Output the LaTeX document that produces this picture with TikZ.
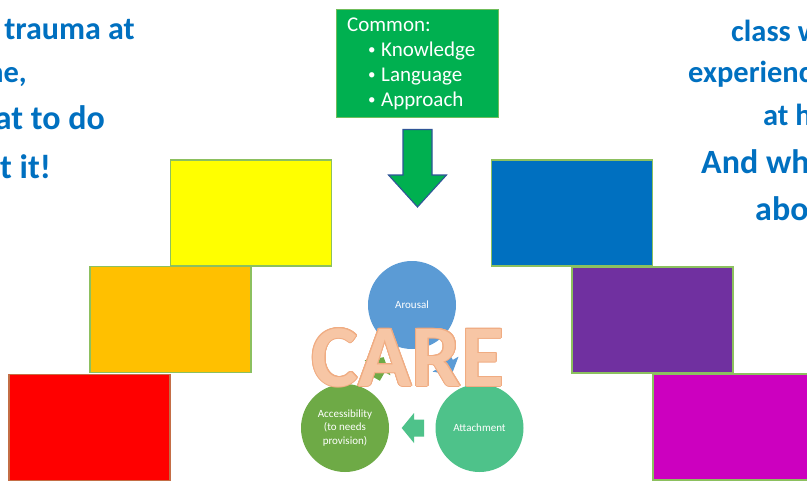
\documentclass[tikz,border=0pt]{standalone}
\usepackage{fontspec}
\setmainfont{Carlito}
\usepackage{contour}
\contourlength{1pt}
\definecolor{titleblue}{HTML}{0070C0}
\definecolor{cyellow}{HTML}{FFFF00}
\definecolor{corange}{HTML}{FFC000}
\definecolor{cred}{HTML}{FF0000}
\definecolor{cblue}{HTML}{0070C0}
\definecolor{cpurple}{HTML}{7030A0}
\definecolor{cmagenta}{HTML}{CC00BF}
\definecolor{edgegreen}{RGB}{140,192,95}
\definecolor{edgered}{RGB}{196,110,70}
\definecolor{boxgreen}{HTML}{00B050}
\definecolor{arrowedge}{HTML}{2F5597}
\definecolor{carousal}{HTML}{5B9BD5}
\definecolor{caccess}{HTML}{6EAA46}
\definecolor{cattach}{RGB}{78,194,138}
\definecolor{peachfill}{RGB}{247,198,165}
\definecolor{peachedge}{RGB}{240,172,130}
\tikzset{
  colbox/.style={draw=edgegreen, line width=1.4pt, minimum width=161pt, minimum height=106pt, inner sep=0pt, outer sep=0pt},
  smallline/.style={font=\fontsize{30.5}{30.5}\selectfont\bfseries, text=titleblue, inner sep=0pt},
  bigline/.style={font=\fontsize{34}{34}\selectfont\bfseries, text=titleblue, inner sep=0pt},
  careball/.style={circle, minimum size=88pt, inner sep=0pt, text=white, align=center, font=\fontsize{11}{13.5}\selectfont},
  commontext/.style={text=white, inner sep=0pt, font=\fontsize{21}{21}\selectfont},
  bulletmark/.style={text=white, inner sep=0pt, font=\fontsize{15}{15}\selectfont}
}
\begin{document}
\begin{tikzpicture}[x=1pt,y=-1pt]
\useasboundingbox (0,0) rectangle (807,482);
\clip (0,0) rectangle (807,482);
\fill[white] (0,0) rectangle (807,482);

% left title text
\node[smallline, font=\fontsize{32}{32}\selectfont\bfseries, anchor=base east] (l1) at (135,39) {experience trauma at};
\node[smallline, anchor=base east] (l2) at (27,82) {home,};
\node[bigline, anchor=base east] (l3) at (105,129) {And what to do};
\node[bigline, anchor=base east] (l4) at (51,178) {about it!};

% right title text
\node[smallline, anchor=base west] (r1) at (731,41) {class who};
\node[smallline, anchor=base west] (r2) at (688,82) {experience trauma};
\node[smallline, anchor=base west] (r3) at (763,125) {at home?};
\node[bigline, anchor=base west] (r4) at (701,173) {And what to do};
\node[bigline, anchor=base west] (r5) at (755,220) {about it?};

% coloured boxes
\node[colbox, fill=corange] (orange) at (170.5,319.5) {};
\node[colbox, fill=cyellow] (yellow) at (251,213) {};
\node[colbox, fill=cred, draw=edgered] (red) at (89.5,427.5) {};
\node[colbox, fill=cpurple] (purple) at (652.5,320) {};
\node[colbox, fill=cblue] (blue) at (572,213) {};
\node[colbox, fill=cmagenta] (magenta) at (733.5,427) {};

% common box
\node[draw=edgegreen!80!boxgreen, line width=1pt, fill=boxgreen, minimum width=162pt, minimum height=108pt, inner sep=0pt] (common) at (417.5,63) {};
\node[commontext, anchor=base west] (ct0) at (347,31) {Common:};
\node[bulletmark, anchor=base west] (cb1) at (368,54) {•};
\node[commontext, anchor=base west] (ct1) at (381,56) {Knowledge};
\node[bulletmark, anchor=base west] (cb2) at (368,79) {•};
\node[commontext, anchor=base west] (ct2) at (381,81) {Language};
\node[bulletmark, anchor=base west] (cb3) at (368,104) {•};
\node[commontext, anchor=base west] (ct3) at (381,106) {Approach};

% big down arrow
\filldraw[fill=boxgreen, draw=arrowedge, line width=1.1pt, line join=miter]
  (403,129.5) -- (432,129.5) -- (432,175) -- (446.5,175) -- (417.5,207) -- (388.5,175) -- (403,175) -- cycle;

% cycle diagram
\node[careball, fill=carousal] (arousal) at (412,305) {Arousal};
\node[careball, fill=caccess] (access) at (345,428) {Accessibility\\(to needs\\provision)};
\node[careball, fill=cattach] (attach) at (479.5,428) {Attachment};

\begin{scope}[shift={(446,365)}, rotate=-60]
  \fill[carousal] (-11,-8.5) -- (-1,-8.5) -- (-1,-15) -- (11.3,0) -- (-1,15) -- (-1,8.5) -- (-11,8.5) -- cycle;
\end{scope}
\begin{scope}[shift={(378,367)}, rotate=60]
  \fill[caccess] (-11,-8.5) -- (-1,-8.5) -- (-1,-15) -- (11.3,0) -- (-1,15) -- (-1,8.5) -- (-11,8.5) -- cycle;
\end{scope}
\begin{scope}[shift={(413,428)}, rotate=180]
  \fill[cattach] (-11,-8.5) -- (-1,-8.5) -- (-1,-15) -- (11.3,0) -- (-1,15) -- (-1,8.5) -- (-11,8.5) -- cycle;
\end{scope}

\node[inner sep=0pt, anchor=base, font=\fontsize{88}{88}\selectfont\bfseries, text=peachfill] (care) at (408,386) {\contour{peachedge}{CARE}};
\end{tikzpicture}
\end{document}
